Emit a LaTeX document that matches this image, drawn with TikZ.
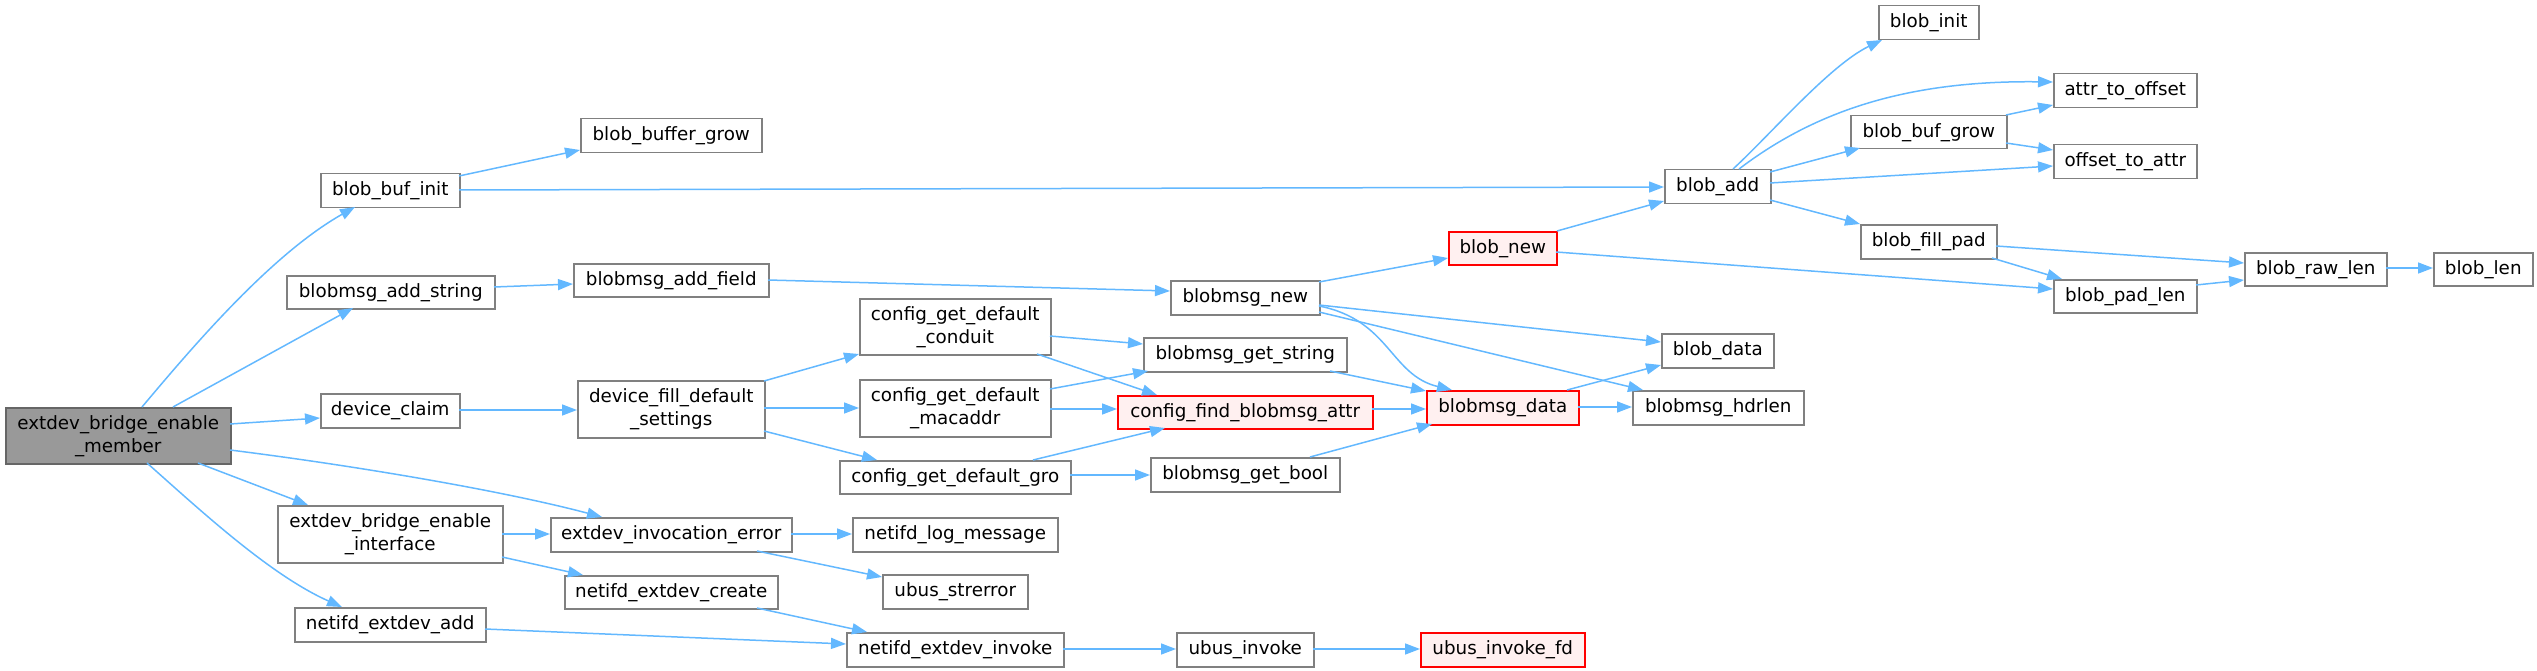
\documentclass[tikz,border=0pt]{standalone}
\usepackage{fontspec}
\setmainfont{DejaVu Sans}
\usetikzlibrary{arrows.meta}
\definecolor{edgec}{HTML}{63B8FF}
\definecolor{nodeb}{HTML}{808080}
\definecolor{redf}{HTML}{FFF0F0}
\definecolor{mainf}{HTML}{999999}
\definecolor{mainb}{HTML}{666666}
\begin{document}
\begin{tikzpicture}[x=1pt,y=-1pt,
  box/.style={draw=nodeb, line width=1.5pt, fill=white, anchor=north west, inner sep=0pt,
    font=\fontsize{18.3}{23}\selectfont, align=center},
  redbox/.style={box, draw=red, fill=redf},
  mainbox/.style={box, draw=mainb, fill=mainf},
  sz/.style 2 args={minimum width=#1pt, minimum height=#2pt},
  call/.style={draw=edgec, line width=1.5pt, -{Triangle[length=15pt,width=11pt]}}]
\useasboundingbox (0,0) rectangle (2537,671);
% nodes
\node[mainbox, sz={225}{56}] (M) at (5,407) {extdev\_bridge\_enable\\\_member};
\node[box, sz={139}{34}] (bbi) at (320,173) {blob\_buf\_init};
\node[box, sz={208}{33}] (bas) at (286,275) {blobmsg\_add\_string};
\node[box, sz={139}{34}] (dc) at (320,393) {device\_claim};
\node[box, sz={225}{57}] (ebi) at (277,505) {extdev\_bridge\_enable\\\_interface};
\node[box, sz={191}{34}] (nea) at (294,607) {netifd\_extdev\_add};
\node[box, sz={181}{34}] (bbg) at (580,118) {blob\_buffer\_grow};
\node[box, sz={195}{33}] (baf) at (573,263) {blobmsg\_add\_field};
\node[box, sz={187}{57}] (dfds) at (577,380) {device\_fill\_default\\\_settings};
\node[box, sz={241}{34}] (eie) at (550,517) {extdev\_invocation\_error};
\node[box, sz={213}{33}] (nec) at (564,575) {netifd\_extdev\_create};
\node[box, sz={149}{34}] (bmn) at (1170,280) {blobmsg\_new};
\node[box, sz={191}{56}] (cgdc) at (859,298) {config\_get\_default\\\_conduit};
\node[box, sz={203}{34}] (bgs) at (1143,337) {blobmsg\_get\_string};
\node[box, sz={191}{57}] (cgdm) at (859,379) {config\_get\_default\\\_macaddr};
\node[redbox, sz={255}{33}] (cfba) at (1117,395) {config\_find\_blobmsg\_attr};
\node[box, sz={231}{33}] (cgdg) at (839,460) {config\_get\_default\_gro};
\node[box, sz={189}{34}] (bgb) at (1150,457) {blobmsg\_get\_bool};
\node[box, sz={205}{34}] (nlm) at (852,517) {netifd\_log\_message};
\node[box, sz={145}{34}] (uss) at (882,574) {ubus\_strerror};
\node[box, sz={217}{34}] (nei) at (846,632) {netifd\_extdev\_invoke};
\node[box, sz={137}{34}] (ui) at (1176,632) {ubus\_invoke};
\node[box, sz={106}{34}] (badd) at (1664,169) {blob\_add};
\node[redbox, sz={108}{33}] (bnew) at (1448,231) {blob\_new};
\node[box, sz={112}{34}] (bdata) at (1661,333) {blob\_data};
\node[redbox, sz={152}{34}] (bmd) at (1426,390) {blobmsg\_data};
\node[box, sz={171}{34}] (bmh) at (1632,390) {blobmsg\_hdrlen};
\node[redbox, sz={164}{34}] (uif) at (1420,632) {ubus\_invoke\_fd};
\node[box, sz={100}{34}] (binit) at (1878,5) {blob\_init};
\node[box, sz={143}{34}] (ato) at (2053,73) {attr\_to\_offset};
\node[box, sz={156}{33}] (bbufg) at (1850,115) {blob\_buf\_grow};
\node[box, sz={143}{34}] (ota) at (2053,144) {offset\_to\_attr};
\node[box, sz={136}{34}] (bfp) at (1860,224) {blob\_fill\_pad};
\node[box, sz={143}{33}] (bpl) at (2053,279) {blob\_pad\_len};
\node[box, sz={142}{33}] (brl) at (2244,252) {blob\_raw\_len};
\node[box, sz={99}{33}] (blen) at (2433,252) {blob\_len};
% edges
\draw[call] ([shift={(137,0)}]M.north west) .. controls (190,350) and (270,255) .. ([shift={(35,34)}]bbi.north west);
\draw[call] ([shift={(168,0)}]M.north west) -- ([shift={(67,33)}]bas.north west);
\draw[call] ([shift={(225,17)}]M.north west) -- ([shift={(0,25)}]dc.north west);
\draw[call] ([shift={(225,43)}]M.north west) .. controls (350,465) and (500,490) .. ([shift={(52,0)}]eie.north west);
\draw[call] ([shift={(193,56)}]M.north west) -- ([shift={(31,0)}]ebi.north west);
\draw[call] ([shift={(142,56)}]M.north west) .. controls (200,510) and (270,575) .. ([shift={(48,0)}]nea.north west);
\draw[call] ([shift={(139,3)}]bbi.north west) -- ([shift={(0,32)}]bbg.north west);
\draw[call] ([shift={(139,17)}]bbi.north west) -- ([shift={(0,18)}]badd.north west);
\draw[call] ([shift={(208,12)}]bas.north west) -- ([shift={(0,21)}]baf.north west);
\draw[call] ([shift={(195,17)}]baf.north west) -- ([shift={(0,11)}]bmn.north west);
\draw[call] ([shift={(139,17)}]dc.north west) -- ([shift={(0,30)}]dfds.north west);
\draw[call] ([shift={(187,1)}]dfds.north west) -- ([shift={(0,56)}]cgdc.north west);
\draw[call] ([shift={(187,28)}]dfds.north west) -- ([shift={(0,29)}]cgdm.north west);
\draw[call] ([shift={(187,51)}]dfds.north west) -- ([shift={(38,0)}]cgdg.north west);
\draw[call] ([shift={(225,29)}]ebi.north west) -- ([shift={(0,17)}]eie.north west);
\draw[call] ([shift={(225,52)}]ebi.north west) -- ([shift={(19,0)}]nec.north west);
\draw[call] ([shift={(191,22)}]nea.north west) -- ([shift={(0,12)}]nei.north west);
\draw[call] ([shift={(241,17)}]eie.north west) -- ([shift={(0,17)}]nlm.north west);
\draw[call] ([shift={(207,34)}]eie.north west) -- ([shift={(0,3)}]uss.north west);
\draw[call] ([shift={(193,33)}]nec.north west) -- ([shift={(21,0)}]nei.north west);
\draw[call] ([shift={(217,17)}]nei.north west) -- ([shift={(0,17)}]ui.north west);
\draw[call] ([shift={(137,17)}]ui.north west) -- ([shift={(0,17)}]uif.north west);
\draw[call] ([shift={(191,38)}]cgdc.north west) -- ([shift={(0,7)}]bgs.north west);
\draw[call] ([shift={(178,56)}]cgdc.north west) -- ([shift={(40,0)}]cfba.north west);
\draw[call] ([shift={(191,10)}]cgdm.north west) -- ([shift={(5,34)}]bgs.north west);
\draw[call] ([shift={(191,30)}]cgdm.north west) -- ([shift={(0,14)}]cfba.north west);
\draw[call] ([shift={(194,0)}]cgdg.north west) -- ([shift={(48,33)}]cfba.north west);
\draw[call] ([shift={(231,15)}]cgdg.north west) -- ([shift={(0,18)}]bgb.north west);
\draw[call] ([shift={(187,34)}]bgs.north west) -- ([shift={(0,1)}]bmd.north west);
\draw[call] ([shift={(255,14)}]cfba.north west) -- ([shift={(0,19)}]bmd.north west);
\draw[call] ([shift={(160,0)}]bgb.north west) -- ([shift={(6,34)}]bmd.north west);
\draw[call] ([shift={(149,2)}]bmn.north west) -- ([shift={(0,27)}]bnew.north west);
\draw[call] ([shift={(149,25)}]bmn.north west) -- ([shift={(0,9)}]bdata.north west);
\draw[call] ([shift={(149,32)}]bmn.north west) -- ([shift={(11,0)}]bmh.north west);
\draw[call] ([shift={(149,26)}]bmn.north west) .. controls (1390,320) and (1390,375) .. ([shift={(26,0)}]bmd.north west);
\draw[call] ([shift={(109,0)}]bnew.north west) -- ([shift={(0,32)}]badd.north west);
\draw[call] ([shift={(108,21)}]bnew.north west) -- ([shift={(0,10)}]bpl.north west);
\draw[call] ([shift={(141,0)}]bmd.north west) -- ([shift={(0,32)}]bdata.north west);
\draw[call] ([shift={(152,17)}]bmd.north west) -- ([shift={(0,17)}]bmh.north west);
\draw[call] ([shift={(69,0)}]badd.north west) .. controls (1770,135) and (1830,65) .. ([shift={(4,35)}]binit.north west);
\draw[call] ([shift={(75,0)}]badd.north west) .. controls (1810,115) and (1900,80) .. ([shift={(0,9)}]ato.north west);
\draw[call] ([shift={(106,3)}]badd.north west) -- ([shift={(10,33)}]bbufg.north west);
\draw[call] ([shift={(106,14)}]badd.north west) -- ([shift={(0,22)}]ota.north west);
\draw[call] ([shift={(106,31)}]badd.north west) -- ([shift={(0,0)}]bfp.north west);
\draw[call] ([shift={(156,0)}]bbufg.north west) -- ([shift={(0,32)}]ato.north west);
\draw[call] ([shift={(156,28)}]bbufg.north west) -- ([shift={(0,6)}]ota.north west);
\draw[call] ([shift={(136,22)}]bfp.north west) -- ([shift={(0,11)}]brl.north west);
\draw[call] ([shift={(132,34)}]bfp.north west) -- ([shift={(9,0)}]bpl.north west);
\draw[call] ([shift={(143,6)}]bpl.north west) -- ([shift={(0,28)}]brl.north west);
\draw[call] ([shift={(142,16)}]brl.north west) -- ([shift={(0,16)}]blen.north west);
\end{tikzpicture}
\end{document}
